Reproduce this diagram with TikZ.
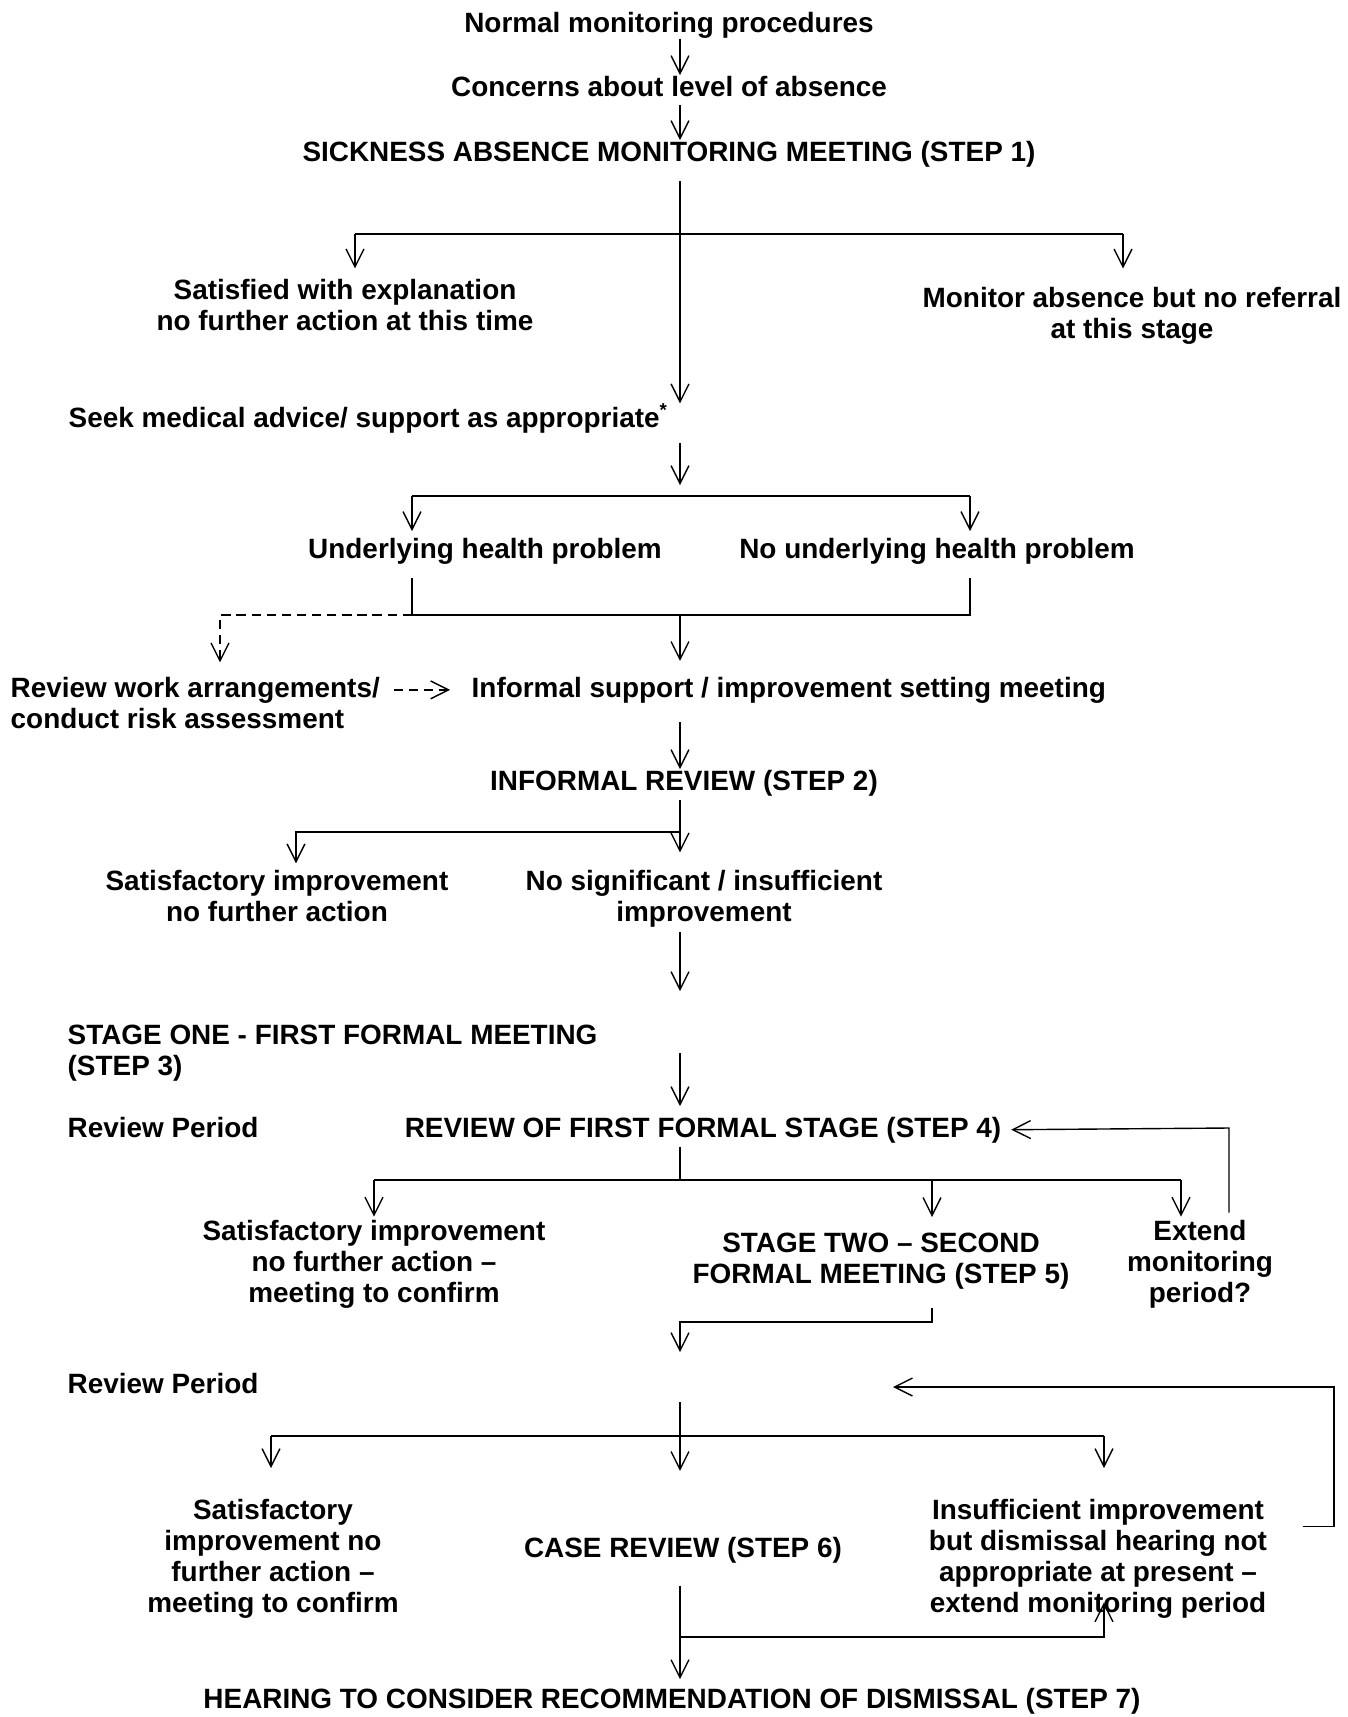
\documentclass[tikz,border=0pt]{standalone}
\usepackage{fontspec}
\setmainfont{Liberation Sans}
\usetikzlibrary{arrows.meta}

\begin{document}
\begin{tikzpicture}[x=0.43pt, y=-0.43pt, line width=0.6pt,
  txt/.style={font=\fontsize{12}{13.2}\selectfont\bfseries, inner sep=0pt, align=center, anchor=base},
  ltxt/.style={txt, align=left, anchor=base west},
  arr/.style={-{Straight Barb[length=7.7pt, width=7.7pt]}},
  dsh/.style={arr, dash pattern=on 4pt off 2.5pt}]

\useasboundingbox (0,0) rectangle (1347,1717);

\coordinate (trunk) at (680,0);

\node[txt] (normal) at (669,32) {Normal monitoring procedures};
\node[txt] (concerns) at (669,96) {Concerns about level of absence};
\node[txt] (meeting1) at (669,161) {SICKNESS ABSENCE MONITORING MEETING (STEP 1)};
\node[txt] (satisfied) at (345,330) {Satisfied with explanation\\no further action at this time};
\node[txt] (monitor) at (1132,338) {Monitor absence but no referral\\at this stage};
\node[ltxt] (seek) at (68,427) {Seek medical advice/ support as appropriate\textsuperscript{*}};
\node[txt] (underlying) at (485,558) {Underlying health problem};
\node[txt] (nounderlying) at (937,558) {No underlying health problem};
\node[ltxt] (review) at (10,728) {Review work arrangements/\\conduct risk assessment};
\node[ltxt] (informal) at (471,697) {Informal support / improvement setting meeting};
\node[txt] (infreview) at (684,790) {INFORMAL REVIEW (STEP 2)};
\node[txt] (satisf1) at (277,921) {Satisfactory improvement\\no further action};
\node[txt] (nosignif) at (704,921) {No significant / insufficient\\improvement};
\node[ltxt] (stage1) at (67,1075) {STAGE ONE - FIRST FORMAL MEETING\\(STEP 3)};
\node[ltxt] (period1) at (67,1137) {Review Period};
\node[txt] (reviewfirst) at (703,1137) {REVIEW OF FIRST FORMAL STAGE (STEP 4)};
\node[txt] (satisf2) at (374,1302) {Satisfactory improvement\\no further action --\\meeting to confirm};
\node[txt] (stage2) at (881,1283) {STAGE TWO -- SECOND\\FORMAL MEETING (STEP 5)};
\node[txt] (extend) at (1200,1302) {Extend\\monitoring\\period?};
\node[ltxt] (period2) at (67,1393) {Review Period};
\node[txt] (satisf3) at (273,1612) {Satisfactory\\improvement no\\further action --\\meeting to confirm};
\node[txt] (casereview) at (683,1557) {CASE REVIEW (STEP 6)};
\node[txt] (insufficient) at (1098,1612) {Insufficient improvement\\but dismissal hearing not\\appropriate at present --\\extend monitoring period};
\node[txt] (hearing) at (672,1708) {HEARING TO CONSIDER RECOMMENDATION OF DISMISSAL (STEP 7)};

\coordinate (b1) at (680,234);
\coordinate (b1l) at (355,234);
\coordinate (b1r) at (1123,234);
\coordinate (b2) at (680,496);
\coordinate (b2l) at (412,496);
\coordinate (b2r) at (970,496);
\coordinate (j2) at (680,615);
\coordinate (j2l) at (412,615);
\coordinate (j2r) at (970,615);
\coordinate (dcorner) at (220,615);
\coordinate (b3) at (680,832);
\coordinate (b3l) at (296,832);
\coordinate (b4) at (680,1180);
\coordinate (b4l) at (374,1180);
\coordinate (b4m) at (932,1180);
\coordinate (b4r) at (1181,1180);
\coordinate (fb1) at (1229,1128);
\coordinate (j5r) at (932,1322);
\coordinate (j5l) at (680,1322);
\coordinate (b5) at (680,1436);
\coordinate (b5l) at (271,1436);
\coordinate (b5r) at (1104,1436);
\coordinate (fbtop) at (1334,1387);
\coordinate (fb2) at (893,1387);
\coordinate (j6) at (680,1637);
\coordinate (j6r) at (1104,1637);

\draw[arr] (normal.south -| trunk) -- (concerns.north -| trunk);
\draw[arr, shorten <=3.4pt] (concerns.south -| trunk) -- (meeting1.north -| trunk);
\draw[arr, shorten <=6pt] (meeting1.south -| trunk) -- (seek.north -| trunk);
\draw (b1l) -- (b1r);
\draw[arr, shorten >=4.3pt] (b1l) -- (satisfied.north -| b1l);
\draw[arr, shorten >=7.7pt] (b1r) -- (monitor.north -| b1r);

\draw[arr, shorten <=4.3pt, shorten >=4.7pt] (seek.south -| trunk) -- (b2);
\draw (b2l) -- (b2r);
\draw[arr, shorten >=2.6pt] (b2l) -- (underlying.north -| b2l);
\draw[arr, shorten >=2.6pt] (b2r) -- (nounderlying.north -| b2r);
\draw[shorten <=5.6pt, shorten >=5.6pt] (underlying.south -| j2l) -- (j2l) -- (j2r) -- (nounderlying.south -| j2r);
\draw[arr, shorten >=6.5pt] (j2) -- (informal.north -| j2);
\draw[dsh, shorten >=6pt] (j2l) -- (dcorner) -- (review.north -| dcorner);
\draw[dsh, shorten <=5.6pt, shorten >=9pt] (review.east |- informal.west) -- (informal.west);

\draw[arr, shorten <=8pt] (informal.south -| trunk) -- (infreview.north -| trunk);
\draw[arr, shorten <=1.7pt, shorten >=7.3pt] (infreview.south -| trunk) -- (nosignif.north -| trunk);
\draw[arr, shorten >=2.6pt] (b3) -- (b3l) -- (satisf1.north -| b3l);
\draw[arr, shorten <=2pt, shorten >=14.2pt] (nosignif.south -| trunk) -- (stage1.north -| trunk);
\draw[arr, shorten >=4.3pt] (stage1.east -| trunk) -- (reviewfirst.north -| trunk);

\draw[shorten <=1.3pt] (reviewfirst.south -| trunk) -- (b4);
\draw (b4l) -- (b4r);
\draw[arr, shorten >=1.3pt] (b4l) -- (satisf2.north -| b4l);
\draw[arr, shorten >=6.5pt] (b4m) -- (stage2.north -| b4m);
\draw[arr, shorten >=1.3pt] (b4r) -- (extend.north -| b4r);
\draw[arr, shorten <=3pt, shorten >=4pt] (extend.north -| fb1) -- (fb1) -- (reviewfirst.east);
\draw[arr, shorten <=8pt, shorten >=13.3pt] (stage2.south -| j5r) -- (j5r) -- (j5l) -- (period2.east -| trunk);

\draw[shorten <=8.2pt] (period2.east -| trunk) -- (b5);
\draw (b5l) -- (b5r);
\draw[arr, shorten >=13.3pt] (b5l) -- (satisf3.north -| b5l);
\draw[arr, shorten >=28pt] (b5) -- (casereview.north -| b5);
\draw[arr, shorten >=13.3pt] (b5r) -- (insufficient.north -| b5r);
\draw[arr] ([xshift=15pt, yshift=13.8pt]insufficient.east) -| (fbtop) -- (fb2);
\draw[arr, shorten <=9.5pt, shorten >=3.4pt] (casereview.south -| trunk) -- (hearing.north -| trunk);
\draw[arr, shorten >=-7pt] (j6) -- (j6r) -- (insufficient.south -| j6r);

\end{tikzpicture}
\end{document}
